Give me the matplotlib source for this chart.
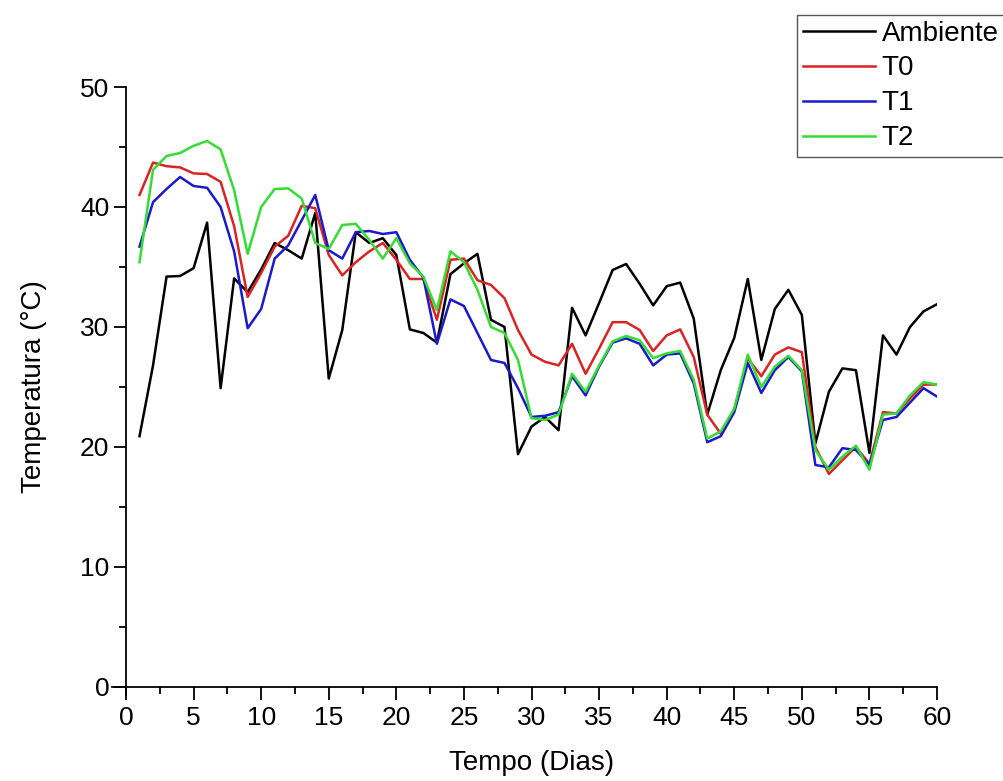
import matplotlib
matplotlib.use("Agg")
import matplotlib.pyplot as plt
from matplotlib.ticker import MultipleLocator

plt.rcParams['font.family'] = ['Liberation Sans', 'DejaVu Sans']

dias = list(range(1, 61))

ambiente = [20.9, 26.8, 34.2, 34.25, 34.9, 38.7, 24.9, 34.05, 32.9, 34.8,
            37.0, 36.4, 35.7, 39.5, 25.7, 29.75, 37.9, 37.0, 37.4, 36.0,
            29.8, 29.5, 28.7, 34.4, 35.3, 36.1, 30.6, 30.0, 19.4, 21.7,
            22.5, 21.4, 31.6, 29.3, 32.0, 34.75, 35.25, 33.6, 31.8, 33.4,
            33.7, 30.7, 22.7, 26.4, 29.1, 34.0, 27.25, 31.5, 33.1, 31.0,
            20.3, 24.6, 26.55, 26.4, 19.5, 29.3, 27.7, 30.0, 31.3, 31.9]

t0 = [41.0, 43.7, 43.4, 43.3, 42.8, 42.75, 42.1, 38.4, 32.5, 34.5,
      36.7, 37.6, 40.1, 39.9, 36.0, 34.3, 35.4, 36.3, 37.0, 35.6,
      34.0, 34.0, 30.6, 35.6, 35.7, 33.9, 33.5, 32.4, 29.75, 27.7,
      27.1, 26.8, 28.6, 26.1, 28.2, 30.4, 30.4, 29.75, 28.0, 29.3,
      29.8, 27.5, 22.7, 21.1, 23.1, 27.4, 25.9, 27.7, 28.3, 27.9,
      20.0, 17.75, 18.9, 20.0, 18.6, 22.9, 22.8, 24.05, 25.2, 25.2]

t1 = [36.7, 40.4, 41.5, 42.5, 41.75, 41.6, 40.0, 36.3, 29.9, 31.5,
      35.7, 36.8, 38.9, 41.0, 36.4, 35.7, 37.9, 38.0, 37.75, 37.9,
      35.6, 34.1, 28.6, 32.3, 31.75, 29.5, 27.25, 27.0, 24.9, 22.5,
      22.6, 22.9, 25.9, 24.3, 26.7, 28.7, 29.05, 28.6, 26.8, 27.7,
      27.8, 25.3, 20.4, 20.9, 22.9, 27.0, 24.5, 26.4, 27.5, 26.3,
      18.5, 18.3, 19.9, 19.75, 18.5, 22.25, 22.5, 23.7, 24.9, 24.2]

t2 = [35.4, 43.1, 44.25, 44.5, 45.1, 45.5, 44.8, 41.4, 36.1, 40.0,
      41.5, 41.55, 40.7, 37.0, 36.5, 38.5, 38.6, 37.25, 35.7, 37.4,
      35.3, 34.2, 31.4, 36.3, 35.4, 33.1, 30.0, 29.5, 27.25, 22.4,
      22.25, 22.7, 26.1, 24.6, 26.8, 28.8, 29.25, 28.9, 27.4, 27.8,
      28.0, 25.6, 20.7, 21.3, 23.2, 27.7, 25.0, 26.7, 27.6, 26.4,
      19.75, 18.1, 19.2, 20.1, 18.1, 22.7, 22.8, 24.3, 25.4, 25.2]

fig = plt.figure(figsize=(10.04, 7.81), dpi=100)
ax = fig.add_axes([0.1255, 0.1204, 0.8078, 0.7682])

ax.plot(dias, ambiente, color='black', lw=1.8, label='Ambiente')
ax.plot(dias, t0, color='#dd2222', lw=1.8, label='T0')
ax.plot(dias, t1, color='#1a1acc', lw=1.8, label='T1')
ax.plot(dias, t2, color='#33dd33', lw=1.8, label='T2')

ax.set_xlim(0, 60)
ax.set_ylim(0, 50)
ax.spines['top'].set_visible(False)
ax.spines['right'].set_visible(False)
ax.spines['bottom'].set_bounds(-1, 60)
ax.spines['left'].set_bounds(-0.7, 50)
for s in ['bottom', 'left']:
    ax.spines[s].set_linewidth(1.3)

ax.xaxis.set_major_locator(MultipleLocator(5))
ax.xaxis.set_minor_locator(MultipleLocator(2.5))
ax.yaxis.set_major_locator(MultipleLocator(10))
ax.yaxis.set_minor_locator(MultipleLocator(5))
ax.tick_params(which='major', length=9, width=1.3, labelsize=19)
ax.tick_params(which='minor', length=5, width=1.3)
ax.tick_params(axis='x', pad=5)
ax.tick_params(axis='y', pad=3)

ax.set_xlabel('Tempo (Dias)', fontsize=20, labelpad=14)
ax.set_ylabel('Temperatura (°C)', fontsize=20, labelpad=24)

leg = ax.legend(loc='upper left', bbox_to_anchor=(797 / 1004, 1 - 15 / 781),
                bbox_transform=fig.transFigure, fontsize=20, frameon=True,
                fancybox=False, edgecolor='#555555', framealpha=1,
                handlelength=2.6, handletextpad=0.25, labelspacing=0.32,
                borderpad=0.2, borderaxespad=0)
leg.get_frame().set_linewidth(1.0)

fig.savefig('out.png', dpi=100)
